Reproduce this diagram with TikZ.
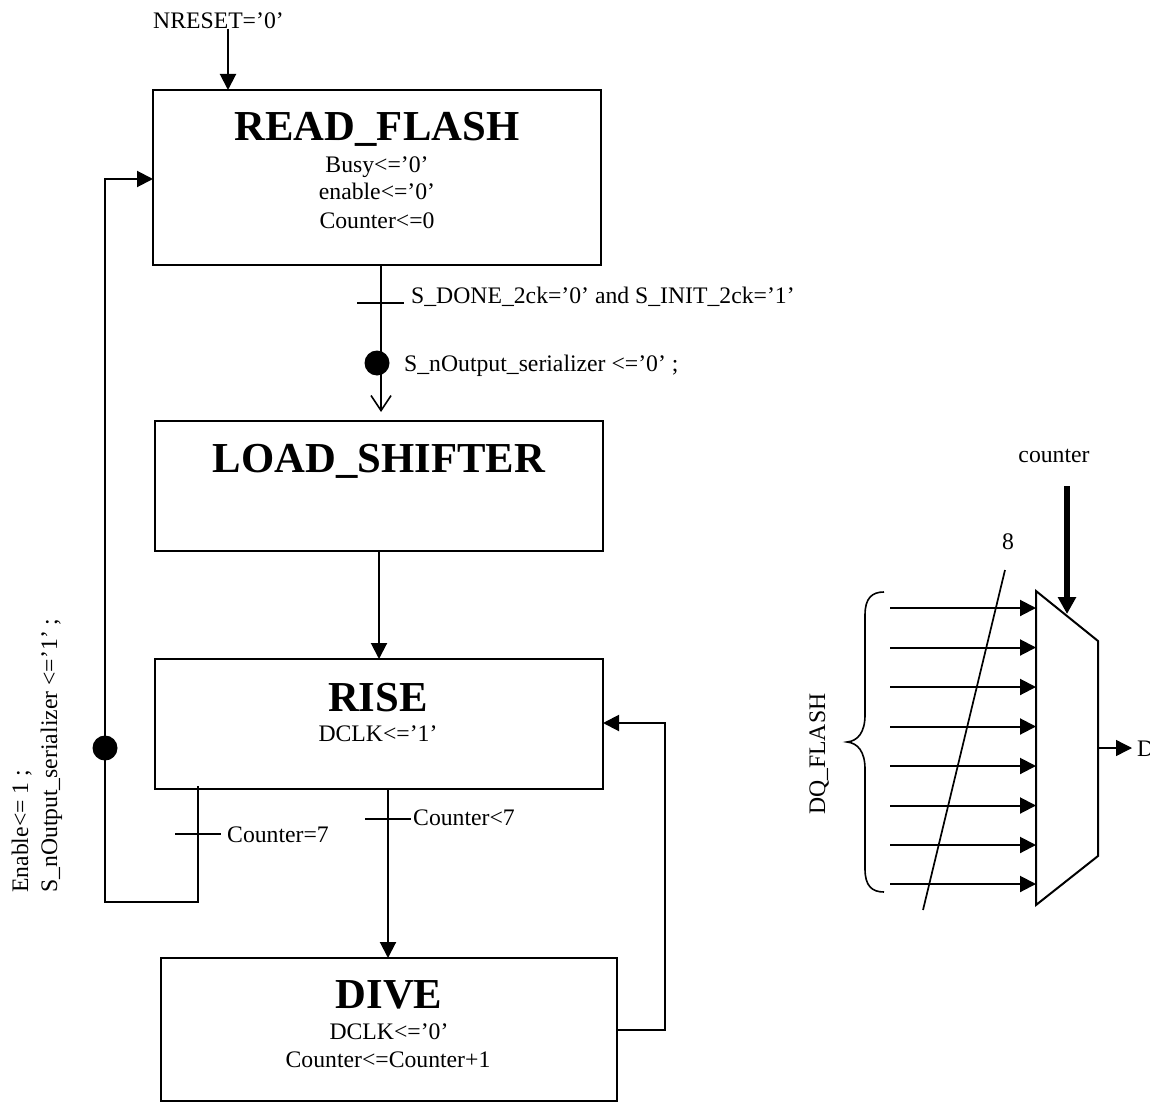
\documentclass[tikz,border=0pt]{standalone}
\usepackage{fontspec}
\setmainfont{Liberation Serif}
\usetikzlibrary{arrows.meta}
\tikzset{
  x=1pt,y=-1pt,
  wire/.style={line width=2pt,black},
  arr/.style={wire,-{Triangle[length=16pt,width=16pt]}},
  openarr/.style={wire,-{Straight Barb[length=15pt,width=20pt,line width=1.6pt]}},
  tick/.style={line width=1.5pt},
  statebox/.style={draw,line width=2pt,inner sep=0pt,outer sep=0pt,anchor=north west},
  dotmark/.style={circle,fill=black,minimum size=25pt,inner sep=0pt},
  title/.style={font=\fontsize{42.7pt}{44pt}\selectfont\bfseries,anchor=base,inner sep=0pt},
  body/.style={font=\fontsize{23.7pt}{28pt}\selectfont,inner sep=0pt,anchor=base},
  lab/.style={body,anchor=base west},
  rot/.style={body,anchor=base west,rotate=90},
  inwire/.style={line width=2pt,-{Triangle[length=16pt,width=16pt]}}
}
\begin{document}
\begin{tikzpicture}
\useasboundingbox[fill=white] (0,0) rectangle (1150,1102);
% states
\node[statebox,minimum width=448pt,minimum height=175pt] (rf) at (153,90) {};
\node[statebox,minimum width=448pt,minimum height=130pt] (ls) at (155,421) {};
\node[statebox,minimum width=448pt,minimum height=130pt] (ri) at (155,659) {};
\node[statebox,minimum width=456pt,minimum height=143pt] (di) at (161,958) {};
% state texts
\node[title] (t1) at (377,141) {READ\_FLASH};
\node[body] (b1) at (377,172) {Busy<=’0’};
\node[body] (b2) at (377,200) {enable<=’0’};
\node[body] (b3) at (377,228) {Counter<=0};
\node[title] (t2) at (379,472) {LOAD\_SHIFTER};
\node[title] (t3) at (378,711) {RISE};
\node[body] (b4) at (378,741) {DCLK<=’1’};
\node[title] (t4) at (389,1008) {DIVE};
\node[body] (b5) at (389,1039) {DCLK<=’0’};
\node[body] (b6) at (388,1067) {Counter<=Counter+1};
% free labels
\node[lab] (nr) at (153,29) {NRESET=’0’};
\node[lab] (l1) at (411,303) {S\_DONE\_2ck=’0’ and S\_INIT\_2ck=’1’};
\node[lab] (l2) at (404,371) {S\_nOutput\_serializer <=’0’ ;};
\node[lab] (l3) at (227,842) {Counter=7};
\node[lab] (l4) at (413,825) {Counter<7};
\node[rot] (r1) at (28,893) {Enable<= 1 ;};
\node[rot] (r2) at (57,893) {S\_nOutput\_serializer <=’1’ ;};
% reset arrow
\coordinate (rs) at (228,29);
\draw[arr] (rs) -- (rs |- rf.north);
% read flash to load shifter
\draw[openarr] ([xshift=4pt]rf.south) -- ([xshift=2pt,yshift=9pt]ls.north);
\coordinate (k1a) at (357,303); \coordinate (k1b) at (404,303);
\draw[tick] (k1a) -- (k1b);
\node[dotmark] (d1) at (377,363) {};
% load shifter to rise
\draw[arr] (ls.south) -- (ri.north);
% rise to dive
\draw[arr] ([xshift=9pt]ri.south) -- ([xshift=-1pt]di.north);
\coordinate (k2a) at (365,819); \coordinate (k2b) at (411,819);
\draw[tick] (k2a) -- (k2b);
% dive to rise
\coordinate (ret) at (665,1030);
\draw[arr] (di.east |- ret) -- (ret) -- (ret |- 0,723) -- (ri.east |- 0,723);
% rise back to read flash
\coordinate (fb1) at (198,786);
\coordinate (fb2) at (198,902);
\coordinate (fb3) at (105,902);
\coordinate (fb4) at (105,179);
\draw[arr] (fb1) -- (fb2) -- (fb3) -- (fb4) -- (rf.west |- fb4);
\coordinate (k3a) at (175,834); \coordinate (k3b) at (221,834);
\draw[tick] (k3a) -- (k3b);
\node[dotmark] (d2) at (105,748) {};
% multiplexer
\coordinate (ma) at (1036,591);
\coordinate (mb) at (1098,641);
\coordinate (mc) at (1098,856);
\coordinate (md) at (1036,905);
\draw[wire,line join=miter] (ma) -- (mb) -- (mc) -- (md) -- cycle;
% mux inputs
\foreach \i/\y in {1/608,2/647.5,3/687,4/726.5,5/766,6/805.5,7/845,8/884}{
  \coordinate (s\i) at (890,\y);
  \draw[inwire] (s\i) -- (ma |- s\i);
}
% bus slash
\coordinate (sa) at (1005,570); \coordinate (sb) at (923,910);
\draw[line width=1.7pt] (sa) -- (sb);
\node[body] (n8) at (1008,549) {8};
% select
\node[body] (cn) at (1054,462) {counter};
\coordinate (ca) at (1067,486); \coordinate (cb) at (1067,614);
\draw[line width=5.5pt,-{Triangle[length=17pt,width=17.5pt]}] (ca) -- (cb);
% output
\coordinate (oa) at (1097,748); \coordinate (ob) at (1132,748);
\draw[line width=1.3pt,-{Triangle[length=16pt,width=16pt]}] (oa) -- (ob);
\node[lab] (dl) at (1137,756) {D};
% brace
\coordinate (ba) at (884,592); \coordinate (bt) at (847,742); \coordinate (bb) at (884,892);
\draw[line width=1.6pt] (ba) .. controls (872,592) and (865,598) .. (865,615)
  -- (865,715) .. controls (865,732) and (858,741) .. (bt)
  .. controls (858,743) and (865,752) .. (865,769) -- (865,869)
  .. controls (865,886) and (872,892) .. (bb);
\node[rot] (dq) at (825,815) {DQ\_FLASH};
\end{tikzpicture}
\end{document}
